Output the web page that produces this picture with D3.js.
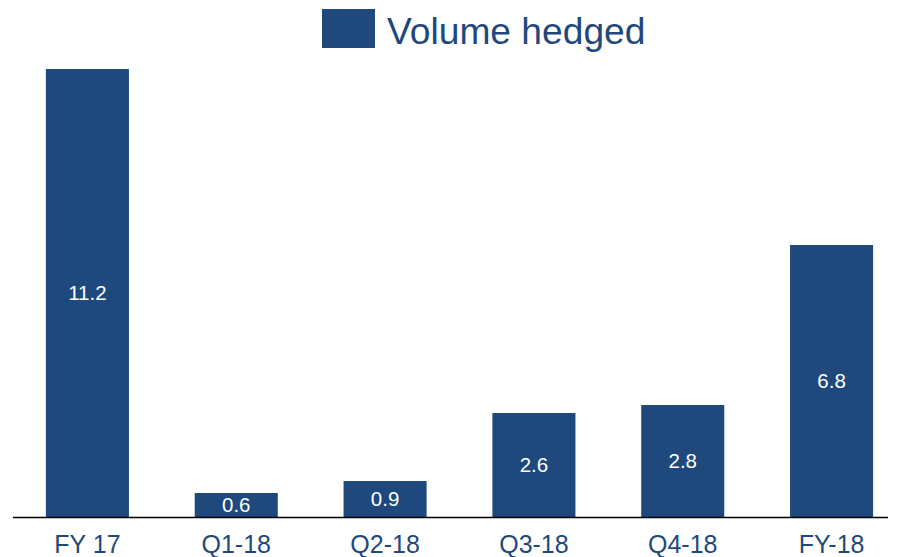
<!DOCTYPE html>
<html>
<head>
<meta charset="utf-8">
<script src="https://cdn.jsdelivr.net/npm/d3@7"></script>
<style>
  html, body { margin: 0; padding: 0; background: #fff; }
  svg { display: block; font-family: "Liberation Sans", Arial, sans-serif; }
</style>
</head>
<body>
<svg id="chart" width="902" height="557"></svg>
<script>
// Hedged volume per period
const categories = ["FY 17", "Q1-18", "Q2-18", "Q3-18", "Q4-18", "FY-18"];
const volumeHedged = [11.2, 0.6, 0.9, 2.6, 2.8, 6.8];
const seriesName = "Volume hedged";

const barColor = "#1f497d";
const textColor = "#1f497d";

const svg = d3.select("#chart");
const baseline = 517;

const x = d3.scaleBand()
  .domain(categories)
  .range([13, 906])
  .paddingInner(0.442)
  .paddingOuter(0.221);

const y = d3.scaleLinear()
  .domain([0, 11.2])
  .range([baseline, 69]);

const data = categories.map((c, i) => ({ cat: c, value: volumeHedged[i] }));

// bars
svg.append("g")
  .selectAll("rect")
  .data(data)
  .join("rect")
  .attr("x", d => x(d.cat))
  .attr("y", d => y(d.value))
  .attr("width", x.bandwidth())
  .attr("height", d => y(0) - y(d.value))
  .attr("fill", barColor);

// value labels, centred inside each bar
svg.append("g")
  .selectAll("text")
  .data(data)
  .join("text")
  .attr("x", d => x(d.cat) + x.bandwidth() / 2)
  .attr("y", d => (y(d.value) + y(0)) / 2)
  .attr("dy", "0.36em")
  .attr("text-anchor", "middle")
  .attr("fill", "#ffffff")
  .attr("font-size", 20.5)
  .text(d => d.value.toFixed(1));

// category axis
const xAxis = svg.append("g")
  .attr("transform", `translate(0,${baseline})`)
  .call(d3.axisBottom(x).tickSize(0).tickPadding(0));
xAxis.select(".domain").remove();
xAxis.selectAll("text")
  .attr("y", 36)
  .attr("dy", 0)
  .attr("fill", textColor)
  .attr("font-size", 25)
  .attr("font-family", "\"Liberation Sans\", Arial, sans-serif");

svg.append("line")
  .attr("x1", 13).attr("x2", 888)
  .attr("y1", baseline + 0.5).attr("y2", baseline + 0.5)
  .attr("stroke", "#000")
  .attr("stroke-width", 1.5);

// legend
const legend = svg.append("g");
legend.append("rect")
  .attr("x", 322).attr("y", 9)
  .attr("width", 53).attr("height", 39)
  .attr("fill", barColor);
legend.append("text")
  .attr("x", 387).attr("y", 44)
  .attr("fill", textColor)
  .attr("font-size", 37.2)
  .text(seriesName);
</script>
</body>
</html>
